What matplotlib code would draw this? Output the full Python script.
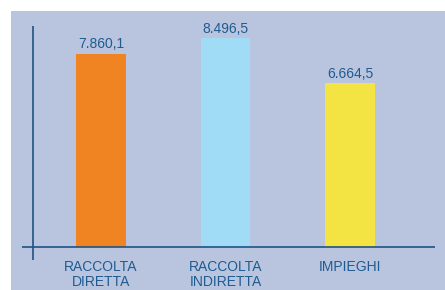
import matplotlib.pyplot as plt
from matplotlib.patches import Rectangle

# Dati
categorie = ["RACCOLTA\nDIRETTA", "RACCOLTA\nINDIRETTA", "IMPIEGHI"]
valori = [7860.1, 8496.5, 6664.5]
etichette = ["7.860,1", "8.496,5", "6.664,5"]
colori = ["#F18422", "#A1DCF6", "#F3E443"]

testo_col = "#1F5B91"
linea_col = "#1F5283"
sfondo = "#B9C5DE"

plt.rcParams['font.family'] = ['Liberation Sans', 'DejaVu Sans']

fig = plt.figure(figsize=(4.45, 2.9), dpi=100)
fig.patch.set_facecolor("white")

# pannello di sfondo
fig.patches.append(Rectangle((11 / 445, 0), 1 - 11 / 445, 1 - 11 / 290,
                             transform=fig.transFigure, facecolor=sfondo,
                             edgecolor="none", zorder=-10))

ax = fig.add_axes([22 / 445, 30 / 290, 413 / 445, 234 / 290])
ax.set_facecolor("none")

x = range(len(valori))
barre = ax.bar(x, valori, width=0.4, color=colori, zorder=2)

for b, txt in zip(barre, etichette):
    ax.annotate(txt, (b.get_x() + b.get_width() / 2, b.get_height()),
                xytext=(0, 2), textcoords="offset points",
                ha="center", va="bottom", fontsize=10, color=testo_col)

ax.set_xlim(-0.635, 2.683)
ax.set_ylim(-530, 9000)

# assi che si incrociano
ax.axhline(0, color=linea_col, lw=1.2, zorder=3)
ax.axvline(-0.546, color=linea_col, lw=1.2, zorder=3)

for s in ax.spines.values():
    s.set_visible(False)
ax.set_yticks([])
ax.set_xticks(list(x))
ax.set_xticklabels(categorie, fontsize=10, color=testo_col, linespacing=1.1)
ax.tick_params(axis="x", length=0, pad=0)

fig.savefig("out.png", dpi=100)
